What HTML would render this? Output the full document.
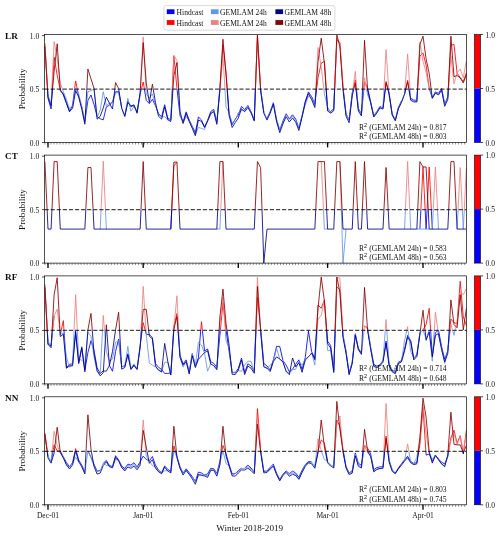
<!DOCTYPE html><html><head><meta charset="utf-8"><style>html,body{margin:0;padding:0;background:#fff;width:500px;height:536px;overflow:hidden}</style></head><body><svg width="500" height="536" viewBox="0 0 500 536" style="display:block;will-change:transform">
<rect width="500" height="536" fill="#fff"/>
<defs>
<clipPath id="up0"><rect x="44.5" y="32.5" width="422.1" height="56.53"/></clipPath>
<clipPath id="dn0"><rect x="44.5" y="89.03" width="422.1" height="55.47"/></clipPath>
<clipPath id="up1"><rect x="44.5" y="153.1" width="422.1" height="56.53"/></clipPath>
<clipPath id="dn1"><rect x="44.5" y="209.63" width="422.1" height="55.47"/></clipPath>
<clipPath id="up2"><rect x="44.5" y="273.9" width="422.1" height="56.53"/></clipPath>
<clipPath id="dn2"><rect x="44.5" y="330.43" width="422.1" height="55.47"/></clipPath>
<clipPath id="up3"><rect x="44.5" y="394.8" width="422.1" height="56.53"/></clipPath>
<clipPath id="dn3"><rect x="44.5" y="451.33" width="422.1" height="55.47"/></clipPath>
</defs>
<path d="M44.9,43.38 L48,98.22 L51.07,109.02 L54.14,57.18 L57.21,75.54 L60.28,89.58 L63.35,94.98 L66.43,103.62 L69.5,111.83 L72.57,105.42 L75.64,80.94 L78.71,96.06 L81.78,106.97 L84.85,121.71 L87.92,100.38 L90.99,94.98 L94.06,104.7 L97.14,116.57 L100.21,118.74 L103.28,119.82 L106.35,106.86 L109.42,105.24 L112.49,101.78 L115.56,91.74 L118.63,91.74 L121.7,107.44 M124.77,115.77 L127.85,101.09 L130.92,106.86 L133.99,104.7 L137.06,113.34 L140.13,93.9 L143.2,82.02 L146.27,100.38 L149.34,103.62 L152.4,99.3 L155.47,105.78 L158.54,113.66 L161.61,116.66 L164.67,104.7 L167.74,118.2 L170.81,119.91 L173.88,56.1 L176.95,88.5 L180.01,115.5 L183.08,121.81 L186.15,111.84 L189.22,120.1 L192.28,126.29 L195.35,132.69 L198.42,117 L201.49,119.96 L204.55,126.99 L207.62,120.32 L210.69,111.55 L213.76,109.36 L216.83,122.17 L219.89,87.47 L222.96,45.3 L226.03,71.9 L229.1,113.31 L232.16,124.66 L235.23,119.13 L238.3,115.01 L241.49,106.39 L244.68,109.51 L247.87,105.44 L251.06,111.76 L254.25,119.93 L257.44,36.12 L260.62,89.24 L263.81,112.25 M267,118.7 L270.19,111.46 L273.38,102.73 L276.57,120.2 L279.76,130.31 L282.95,121.05 L286.14,113.73 L289.33,118.84 L292.52,114.81 L295.71,118.99 L298.9,128.2 L302.09,115.81 L305.28,101.41 L308.46,91.91 L311.65,96.66 L314.84,103.79 L318.03,77.7 L321.22,63.12 L324.41,61.35 L327.6,109.2 L330.68,111.63 L333.75,108.52 L336.83,39.9 L339.91,43.17 L342.99,87.04 L346.06,114.05 L349.14,119.95 L352.22,92.68 L355.3,79.86 L358.37,108.65 L361.45,113.73 L364.53,82.02 L367.61,87.95 L370.68,101.88 L373.76,115.73 L376.84,111.54 L379.92,106.49 L382.99,108.05 L386.07,81.53 L389.15,93.3 L392.23,114.19 L395.3,119.75 L398.38,107.34 L401.46,101.03 M404.54,93.09 L407.61,80.27 L410.69,98.28 L413.77,100.11 L416.85,100.28 L419.92,56.1 L423,52.86 L426.1,65.17 L429.2,88.5 L432.3,97.76 L435.4,91.87 L438.5,93.39 L441.6,88.3 L444.7,104.04 L447.8,96.65 L450.9,45.3 L454,44.44 L457.1,73.38 L460.2,77.34 L463.3,81.69 L466.4,73" fill="none" stroke="#ff0000" stroke-width="0.85" stroke-linejoin="round" clip-path="url(#up0)"/>
<path d="M44.9,43.38 L48,98.22 L51.07,109.02 L54.14,57.18 L57.21,75.54 L60.28,89.58 L63.35,94.98 L66.43,103.62 L69.5,111.83 L72.57,105.42 L75.64,80.94 L78.71,96.06 L81.78,106.97 L84.85,121.71 L87.92,100.38 L90.99,94.98 L94.06,104.7 L97.14,116.57 L100.21,118.74 L103.28,119.82 L106.35,106.86 L109.42,105.24 L112.49,101.78 L115.56,91.74 L118.63,91.74 L121.7,107.44 M124.77,115.77 L127.85,101.09 L130.92,106.86 L133.99,104.7 L137.06,113.34 L140.13,93.9 L143.2,82.02 L146.27,100.38 L149.34,103.62 L152.4,99.3 L155.47,105.78 L158.54,113.66 L161.61,116.66 L164.67,104.7 L167.74,118.2 L170.81,119.91 L173.88,56.1 L176.95,88.5 L180.01,115.5 L183.08,121.81 L186.15,111.84 L189.22,120.1 L192.28,126.29 L195.35,132.69 L198.42,117 L201.49,119.96 L204.55,126.99 L207.62,120.32 L210.69,111.55 L213.76,109.36 L216.83,122.17 L219.89,87.47 L222.96,45.3 L226.03,71.9 L229.1,113.31 L232.16,124.66 L235.23,119.13 L238.3,115.01 L241.49,106.39 L244.68,109.51 L247.87,105.44 L251.06,111.76 L254.25,119.93 L257.44,36.12 L260.62,89.24 L263.81,112.25 M267,118.7 L270.19,111.46 L273.38,102.73 L276.57,120.2 L279.76,130.31 L282.95,121.05 L286.14,113.73 L289.33,118.84 L292.52,114.81 L295.71,118.99 L298.9,128.2 L302.09,115.81 L305.28,101.41 L308.46,91.91 L311.65,96.66 L314.84,103.79 L318.03,77.7 L321.22,63.12 L324.41,61.35 L327.6,109.2 L330.68,111.63 L333.75,108.52 L336.83,39.9 L339.91,43.17 L342.99,87.04 L346.06,114.05 L349.14,119.95 L352.22,92.68 L355.3,79.86 L358.37,108.65 L361.45,113.73 L364.53,82.02 L367.61,87.95 L370.68,101.88 L373.76,115.73 L376.84,111.54 L379.92,106.49 L382.99,108.05 L386.07,81.53 L389.15,93.3 L392.23,114.19 L395.3,119.75 L398.38,107.34 L401.46,101.03 M404.54,93.09 L407.61,80.27 L410.69,98.28 L413.77,100.11 L416.85,100.28 L419.92,56.1 L423,52.86 L426.1,65.17 L429.2,88.5 L432.3,97.76 L435.4,91.87 L438.5,93.39 L441.6,88.3 L444.7,104.04 L447.8,96.65 L450.9,45.3 L454,44.44 L457.1,73.38 L460.2,77.34 L463.3,81.69 L466.4,73" fill="none" stroke="#0000ff" stroke-width="0.85" stroke-linejoin="round" clip-path="url(#dn0)"/>
<path d="M44.9,47.02 L48,94.98 L51.07,103.62 L54.14,41.52 L57.21,58.26 L60.28,83.1 L63.35,91.74 L66.43,99.3 L69.5,109.02 L72.57,105.06 L75.64,88.36 L78.71,94.13 L81.78,106.7 L84.85,120.32 L87.92,91.74 L90.99,90.66 L94.06,89.17 L97.14,116.91 L100.21,110.1 L103.28,91.74 L106.35,105.65 L109.42,103.12 L112.49,102.88 L115.56,92.96 L118.63,92.71 L121.7,107.68 L124.77,115.36 L127.85,98.22 L130.92,111.18 L133.99,106.43 L137.06,111.04 L140.13,95.23 L143.2,36.98 L146.27,93.9 L149.34,98.22 L152.4,93.9 L155.47,105.36 L158.54,114.42 L161.61,117.07 L164.67,116.58 L167.74,120.14 L170.81,119.64 L173.88,55.21 L176.95,60.42 L180.01,115.92 L183.08,122.51 L186.15,116.58 L189.22,120.78 L192.28,127.38 L195.35,134.52 L198.42,127.38 L201.49,128.46 L204.55,129.54 L207.62,120.76 L210.69,114.85 L213.76,110.44 L216.83,122.52 L219.89,90.6 L222.96,56.1 L226.03,106.86 L229.1,112.97 L232.16,123.06 L235.23,120.21 L238.3,112.8 L241.49,110.64 L244.68,110.56 L247.87,106.55 L251.06,112 L254.25,119.33 L257.44,36.26 L260.62,88.59 L263.81,111.9 L267,118.84 L270.19,112 L273.38,103.76 L276.57,118.57 L279.76,129.88 L282.95,122.7 L286.14,114.66 L289.33,119.34 L292.52,116.58 L295.71,120.29 L298.9,127.41 L302.09,116.01 L305.28,104.7 L308.46,96.06 L311.65,98.22 L314.84,105.78 L318.03,47.46 L321.22,66.9 L324.41,93.9 L327.6,106.86 L330.68,112.81 L333.75,109.66 L336.83,38.17 L339.91,41.86 L342.99,88.03 L346.06,114.18 L349.14,119.45 L352.22,94.97 L355.3,71.33 L358.37,109.5 L361.45,114.22 L364.53,77.7 L367.61,94.98 L370.68,102.59 L373.76,116.5 L376.84,111.92 L379.92,107.56 L382.99,107.44 L386.07,49.62 L389.15,96.01 L392.23,115.13 L395.3,119.63 L398.38,108.24 L401.46,101.27 L404.54,93.45 L407.61,53.94 L410.69,99.28 L413.77,101.06 L416.85,101.71 L419.92,42.06 L423,61.5 L426.1,72.3 L429.2,87.86 L432.3,96.98 L435.4,92.86 L438.5,94.03 L441.6,89.82 L444.7,104.34 L447.8,97.95 L450.9,56.1 L454,83.75 L457.1,72.74 L460.2,69.06 L463.3,77.7 L466.4,60.96" fill="none" stroke="#f08080" stroke-width="0.85" stroke-linejoin="round" clip-path="url(#up0)"/>
<path d="M44.9,47.02 L48,94.98 L51.07,103.62 L54.14,41.52 L57.21,58.26 L60.28,83.1 L63.35,91.74 L66.43,99.3 L69.5,109.02 L72.57,105.06 L75.64,88.36 L78.71,94.13 L81.78,106.7 L84.85,120.32 L87.92,91.74 L90.99,90.66 L94.06,89.17 L97.14,116.91 L100.21,110.1 L103.28,91.74 L106.35,105.65 L109.42,103.12 L112.49,102.88 L115.56,92.96 L118.63,92.71 L121.7,107.68 L124.77,115.36 L127.85,98.22 L130.92,111.18 L133.99,106.43 L137.06,111.04 L140.13,95.23 L143.2,36.98 L146.27,93.9 L149.34,98.22 L152.4,93.9 L155.47,105.36 L158.54,114.42 L161.61,117.07 L164.67,116.58 L167.74,120.14 L170.81,119.64 L173.88,55.21 L176.95,60.42 L180.01,115.92 L183.08,122.51 L186.15,116.58 L189.22,120.78 L192.28,127.38 L195.35,134.52 L198.42,127.38 L201.49,128.46 L204.55,129.54 L207.62,120.76 L210.69,114.85 L213.76,110.44 L216.83,122.52 L219.89,90.6 L222.96,56.1 L226.03,106.86 L229.1,112.97 L232.16,123.06 L235.23,120.21 L238.3,112.8 L241.49,110.64 L244.68,110.56 L247.87,106.55 L251.06,112 L254.25,119.33 L257.44,36.26 L260.62,88.59 L263.81,111.9 L267,118.84 L270.19,112 L273.38,103.76 L276.57,118.57 L279.76,129.88 L282.95,122.7 L286.14,114.66 L289.33,119.34 L292.52,116.58 L295.71,120.29 L298.9,127.41 L302.09,116.01 L305.28,104.7 L308.46,96.06 L311.65,98.22 L314.84,105.78 L318.03,47.46 L321.22,66.9 L324.41,93.9 L327.6,106.86 L330.68,112.81 L333.75,109.66 L336.83,38.17 L339.91,41.86 L342.99,88.03 L346.06,114.18 L349.14,119.45 L352.22,94.97 L355.3,71.33 L358.37,109.5 L361.45,114.22 L364.53,77.7 L367.61,94.98 L370.68,102.59 L373.76,116.5 L376.84,111.92 L379.92,107.56 L382.99,107.44 L386.07,49.62 L389.15,96.01 L392.23,115.13 L395.3,119.63 L398.38,108.24 L401.46,101.27 L404.54,93.45 L407.61,53.94 L410.69,99.28 L413.77,101.06 L416.85,101.71 L419.92,42.06 L423,61.5 L426.1,72.3 L429.2,87.86 L432.3,96.98 L435.4,92.86 L438.5,94.03 L441.6,89.82 L444.7,104.34 L447.8,97.95 L450.9,56.1 L454,83.75 L457.1,72.74 L460.2,69.06 L463.3,77.7 L466.4,60.96" fill="none" stroke="#6495ed" stroke-width="0.85" stroke-linejoin="round" clip-path="url(#dn0)"/>
<path d="M44.9,46.51 L48,97.14 L51.07,105.78 L54.14,71.22 L57.21,43.79 L60.28,90.66 L63.35,93.9 L66.43,102.54 L69.5,111.18 L72.57,108.42 L75.64,90.66 L78.71,97.14 L81.78,109.32 L84.85,124.26 L87.92,69.06 L90.99,78.78 L94.06,88.5 L97.14,119.15 L100.21,116.26 L103.28,107.94 L106.35,97.14 L109.42,103.08 L112.49,109.02 L115.56,82.56 L118.63,88.5 L121.7,108.37 L124.77,116.51 L127.85,102.52 L130.92,105.78 L133.99,105.78 L137.06,112.26 L140.13,92.82 L143.2,42.6 L146.27,83.1 L149.34,102.54 L152.4,84.18 L155.47,102.54 L158.54,116.27 L161.61,119.14 L164.67,106.86 L167.74,119.6 L170.81,121.55 L173.88,75.54 L176.95,62.58 L180.01,111.18 L183.08,123.53 L186.15,113.48 L189.22,121.6 L192.28,128.25 L195.35,135.77 L198.42,120.03 L201.49,121.44 L204.55,127.49 L207.62,121.14 L210.69,113.35 L213.76,111.66 L216.83,124.37 L219.89,89.93 L222.96,39.25 L226.03,74.74 L229.1,115.62 L232.16,127.47 L235.23,122.6 L238.3,118.14 L241.49,108.8 L244.68,111.75 L247.87,107.51 L251.06,112.94 L254.25,121.05 L257.44,35.04 L260.62,90.68 L263.81,113.25 L267,120.08 L270.19,113.15 L273.38,104.06 L276.57,121.72 L279.76,132.68 L282.95,123.82 L286.14,116.66 L289.33,121.97 L292.52,118 L295.71,122.16 L298.9,130.49 L302.09,117.01 L305.28,102.38 L308.46,93.53 L311.65,99.71 L314.84,107.56 L318.03,61.5 L321.22,38.17 L324.41,63.3 L327.6,111.03 L330.68,113.13 L333.75,110.71 L336.83,35.15 L339.91,46.74 L342.99,89.45 L346.06,116.25 L349.14,122.72 L352.22,95.85 L355.3,83.1 L358.37,110.94 L361.45,115.93 L364.53,40.33 L367.61,89.94 L370.68,103.13 L373.76,117.06 L376.84,113.09 L379.92,107.96 L382.99,109.14 L386.07,82.67 L389.15,94.5 L392.23,115.04 L395.3,120.91 L398.38,108.92 L401.46,102.5 L404.54,94.48 L407.61,81.9 L410.69,100.24 L413.77,101.96 L416.85,101.85 L419.92,44.44 L423,36.12 L426.1,58.91 L429.2,73.38 L432.3,98.38 L435.4,93.18 L438.5,94.91 L441.6,90.12 L444.7,106.3 L447.8,99.44 L450.9,36.12 L454,76.62 L457.1,75.54 L460.2,77.88 L463.3,82.91 L466.4,74.55" fill="none" stroke="#8b0000" stroke-width="0.85" stroke-linejoin="round" clip-path="url(#up0)"/>
<path d="M44.9,46.51 L48,97.14 L51.07,105.78 L54.14,71.22 L57.21,43.79 L60.28,90.66 L63.35,93.9 L66.43,102.54 L69.5,111.18 L72.57,108.42 L75.64,90.66 L78.71,97.14 L81.78,109.32 L84.85,124.26 L87.92,69.06 L90.99,78.78 L94.06,88.5 L97.14,119.15 L100.21,116.26 L103.28,107.94 L106.35,97.14 L109.42,103.08 L112.49,109.02 L115.56,82.56 L118.63,88.5 L121.7,108.37 L124.77,116.51 L127.85,102.52 L130.92,105.78 L133.99,105.78 L137.06,112.26 L140.13,92.82 L143.2,42.6 L146.27,83.1 L149.34,102.54 L152.4,84.18 L155.47,102.54 L158.54,116.27 L161.61,119.14 L164.67,106.86 L167.74,119.6 L170.81,121.55 L173.88,75.54 L176.95,62.58 L180.01,111.18 L183.08,123.53 L186.15,113.48 L189.22,121.6 L192.28,128.25 L195.35,135.77 L198.42,120.03 L201.49,121.44 L204.55,127.49 L207.62,121.14 L210.69,113.35 L213.76,111.66 L216.83,124.37 L219.89,89.93 L222.96,39.25 L226.03,74.74 L229.1,115.62 L232.16,127.47 L235.23,122.6 L238.3,118.14 L241.49,108.8 L244.68,111.75 L247.87,107.51 L251.06,112.94 L254.25,121.05 L257.44,35.04 L260.62,90.68 L263.81,113.25 L267,120.08 L270.19,113.15 L273.38,104.06 L276.57,121.72 L279.76,132.68 L282.95,123.82 L286.14,116.66 L289.33,121.97 L292.52,118 L295.71,122.16 L298.9,130.49 L302.09,117.01 L305.28,102.38 L308.46,93.53 L311.65,99.71 L314.84,107.56 L318.03,61.5 L321.22,38.17 L324.41,63.3 L327.6,111.03 L330.68,113.13 L333.75,110.71 L336.83,35.15 L339.91,46.74 L342.99,89.45 L346.06,116.25 L349.14,122.72 L352.22,95.85 L355.3,83.1 L358.37,110.94 L361.45,115.93 L364.53,40.33 L367.61,89.94 L370.68,103.13 L373.76,117.06 L376.84,113.09 L379.92,107.96 L382.99,109.14 L386.07,82.67 L389.15,94.5 L392.23,115.04 L395.3,120.91 L398.38,108.92 L401.46,102.5 L404.54,94.48 L407.61,81.9 L410.69,100.24 L413.77,101.96 L416.85,101.85 L419.92,44.44 L423,36.12 L426.1,58.91 L429.2,73.38 L432.3,98.38 L435.4,93.18 L438.5,94.91 L441.6,90.12 L444.7,106.3 L447.8,99.44 L450.9,36.12 L454,76.62 L457.1,75.54 L460.2,77.88 L463.3,82.91 L466.4,74.55" fill="none" stroke="#00008b" stroke-width="0.85" stroke-linejoin="round" clip-path="url(#dn0)"/>
<line x1="44.5" y1="89.03" x2="466.6" y2="89.03" stroke="#000" stroke-width="1.25" stroke-dasharray="4.2 1.89" opacity="0.72"/>
<rect x="44.5" y="34.5" width="422.1" height="108.0" fill="none" stroke="#000" stroke-width="0.68"/>
<line x1="42.0" y1="142.5" x2="44.5" y2="142.5" stroke="#000" stroke-width="0.7"/>
<text x="39.2" y="145.5" text-anchor="end" font-size="7.5" fill="#111" style="font-family:'Liberation Serif',serif">0.0</text>
<line x1="42.0" y1="89.03" x2="44.5" y2="89.03" stroke="#000" stroke-width="0.7"/>
<text x="39.2" y="92.03" text-anchor="end" font-size="7.5" fill="#111" style="font-family:'Liberation Serif',serif">0.5</text>
<line x1="42.0" y1="35.57" x2="44.5" y2="35.57" stroke="#000" stroke-width="0.7"/>
<text x="39.2" y="38.57" text-anchor="end" font-size="7.5" fill="#111" style="font-family:'Liberation Serif',serif">1.0</text>
<path d="M44.9 142.5v2 M47.92 142.5v2 M50.94 142.5v2 M53.96 142.5v2 M56.98 142.5v2 M60 142.5v2 M63.02 142.5v2 M66.04 142.5v2 M69.06 142.5v2 M72.08 142.5v2 M75.1 142.5v2 M78.12 142.5v2 M81.14 142.5v2 M84.16 142.5v2 M87.18 142.5v2 M90.2 142.5v2 M93.22 142.5v2 M96.24 142.5v2 M99.26 142.5v2 M102.28 142.5v2 M105.3 142.5v2 M108.32 142.5v2 M111.34 142.5v2 M114.36 142.5v2 M117.38 142.5v2 M120.4 142.5v2 M123.42 142.5v2 M126.44 142.5v2 M129.46 142.5v2 M132.48 142.5v2 M135.5 142.5v2 M138.52 142.5v2 M141.54 142.5v2 M144.56 142.5v2 M147.58 142.5v2 M150.6 142.5v2 M153.62 142.5v2 M156.64 142.5v2 M159.66 142.5v2 M162.68 142.5v2 M165.7 142.5v2 M168.72 142.5v2 M171.74 142.5v2 M174.76 142.5v2 M177.78 142.5v2 M180.8 142.5v2 M183.82 142.5v2 M186.84 142.5v2 M189.86 142.5v2 M192.88 142.5v2 M195.9 142.5v2 M198.92 142.5v2 M201.94 142.5v2 M204.96 142.5v2 M207.98 142.5v2 M211 142.5v2 M214.02 142.5v2 M217.04 142.5v2 M220.06 142.5v2 M223.08 142.5v2 M226.1 142.5v2 M229.12 142.5v2 M232.14 142.5v2 M235.16 142.5v2 M238.18 142.5v2 M241.2 142.5v2 M244.22 142.5v2 M247.24 142.5v2 M250.26 142.5v2 M253.28 142.5v2 M256.3 142.5v2 M259.32 142.5v2 M262.34 142.5v2 M265.36 142.5v2 M268.38 142.5v2 M271.4 142.5v2 M274.42 142.5v2 M277.44 142.5v2 M280.46 142.5v2 M283.48 142.5v2 M286.5 142.5v2 M289.52 142.5v2 M292.54 142.5v2 M295.56 142.5v2 M298.58 142.5v2 M301.6 142.5v2 M304.62 142.5v2 M307.64 142.5v2 M310.66 142.5v2 M313.68 142.5v2 M316.7 142.5v2 M319.72 142.5v2 M322.74 142.5v2 M325.76 142.5v2 M328.78 142.5v2 M331.8 142.5v2 M334.82 142.5v2 M337.84 142.5v2 M340.86 142.5v2 M343.88 142.5v2 M346.9 142.5v2 M349.92 142.5v2 M352.94 142.5v2 M355.96 142.5v2 M358.98 142.5v2 M362 142.5v2 M365.02 142.5v2 M368.04 142.5v2 M371.06 142.5v2 M374.08 142.5v2 M377.1 142.5v2 M380.12 142.5v2 M383.14 142.5v2 M386.16 142.5v2 M389.18 142.5v2 M392.2 142.5v2 M395.22 142.5v2 M398.24 142.5v2 M401.26 142.5v2 M404.28 142.5v2 M407.3 142.5v2 M410.32 142.5v2 M413.34 142.5v2 M416.36 142.5v2 M419.38 142.5v2 M422.4 142.5v2 M425.42 142.5v2 M428.44 142.5v2 M431.46 142.5v2 M434.48 142.5v2 M437.5 142.5v2 M440.52 142.5v2 M443.54 142.5v2 M446.56 142.5v2 M449.58 142.5v2 M452.6 142.5v2 M455.62 142.5v2 M458.64 142.5v2 M461.66 142.5v2 M464.68 142.5v2" stroke="#000" stroke-width="0.6" opacity="0.7"/>
<line x1="48.0" y1="142.5" x2="48.0" y2="147.4" stroke="#000" stroke-width="1.3"/>
<line x1="143.2" y1="142.5" x2="143.2" y2="147.4" stroke="#000" stroke-width="1.3"/>
<line x1="238.3" y1="142.5" x2="238.3" y2="147.4" stroke="#000" stroke-width="1.3"/>
<line x1="327.6" y1="142.5" x2="327.6" y2="147.4" stroke="#000" stroke-width="1.3"/>
<line x1="423.0" y1="142.5" x2="423.0" y2="147.4" stroke="#000" stroke-width="1.3"/>
<text x="5.0" y="38.7" font-size="9.2" font-weight="bold" fill="#111" style="font-family:'Liberation Serif',serif">LR</text>
<text transform="translate(24.8 88.9) rotate(-90)" text-anchor="middle" font-size="9.2" fill="#111" style="font-family:'Liberation Serif',serif">Probability</text>
<text x="358.9" y="130" font-size="7.6" fill="#111" style="font-family:'Liberation Serif',serif">R<tspan dy="-2.9" font-size="5.6" font-family="Liberation Sans">2</tspan><tspan dy="2.9" dx="0.3"> (GEMLAM 24h) = 0.817</tspan></text>
<text x="358.9" y="139.2" font-size="7.6" fill="#111" style="font-family:'Liberation Serif',serif">R<tspan dy="-2.9" font-size="5.6" font-family="Liberation Sans">2</tspan><tspan dy="2.9" dx="0.3"> (GEMLAM 48h) = 0.803</tspan></text>
<rect x="474.5" y="34.5" width="6" height="54.0" fill="#ff0000"/>
<rect x="474.5" y="88.5" width="6" height="54.0" fill="#0000ff"/>
<rect x="474.5" y="34.5" width="6" height="108.0" fill="none" stroke="#000" stroke-width="0.6"/>
<line x1="480.5" y1="142.5" x2="483.1" y2="142.5" stroke="#000" stroke-width="0.7"/>
<text x="485.6" y="145.8" font-size="7.5" fill="#111" style="font-family:'Liberation Serif',serif">0.0</text>
<line x1="480.5" y1="88.5" x2="483.1" y2="88.5" stroke="#000" stroke-width="0.7"/>
<text x="485.6" y="91.8" font-size="7.5" fill="#111" style="font-family:'Liberation Serif',serif">0.5</text>
<line x1="480.5" y1="34.5" x2="483.1" y2="34.5" stroke="#000" stroke-width="0.7"/>
<text x="485.6" y="37.8" font-size="7.5" fill="#111" style="font-family:'Liberation Serif',serif">1.0</text>
<path d="M170.81,229.08 L173.88,165.9 L176.95,162.12 M419.92,229.08 L423,166.98 L426.1,229.08 L429.2,166.98 L432.3,229.08" fill="none" stroke="#ff0000" stroke-width="0.85" stroke-linejoin="round" clip-path="url(#up1)"/>
<path d="M170.81,229.08 L173.88,165.9 L176.95,162.12 M419.92,229.08 L423,166.98 L426.1,229.08 L429.2,166.98 L432.3,229.08" fill="none" stroke="#0000ff" stroke-width="0.85" stroke-linejoin="round" clip-path="url(#dn1)"/>
<path d="M100.21,229.08 L103.28,161.26 L106.35,229.08 M216.83,229.08 L219.89,229.08 L222.96,161.58 M321.22,161.58 L324.41,229.08 L327.6,229.08 M339.91,161.58 L342.99,263.1 L346.06,229.08 M404.54,229.08 L407.61,161.58 L410.69,229.08 M416.85,229.08 L429.2,229.08 M432.3,229.08 L435.4,166.98 L438.5,229.08 M457.1,229.08 L460.2,167.52 L463.3,229.08 L466.4,167.52" fill="none" stroke="#f08080" stroke-width="0.85" stroke-linejoin="round" clip-path="url(#up1)"/>
<path d="M100.21,229.08 L103.28,161.26 L106.35,229.08 M216.83,229.08 L219.89,229.08 L222.96,161.58 M321.22,161.58 L324.41,229.08 L327.6,229.08 M339.91,161.58 L342.99,263.1 L346.06,229.08 M404.54,229.08 L407.61,161.58 L410.69,229.08 M416.85,229.08 L429.2,229.08 M432.3,229.08 L435.4,166.98 L438.5,229.08 M457.1,229.08 L460.2,167.52 L463.3,229.08 L466.4,167.52" fill="none" stroke="#6495ed" stroke-width="0.85" stroke-linejoin="round" clip-path="url(#dn1)"/>
<path d="M44.9,161.58 L48,229.08 L51.07,229.08 L54.14,161.58 L57.21,161.58 L60.28,229.08 L84.85,229.08 L87.92,167.52 L90.99,167.52 L94.06,229.08 L140.13,229.08 L143.2,161.58 L146.27,229.08 L170.81,229.08 L173.88,162.12 L176.95,162.12 L180.01,229.08 L216.83,229.08 L219.89,161.58 L222.96,161.58 L226.03,229.08 L254.25,229.08 L257.44,161.58 L260.62,167.52 L263.81,263.1 L267,229.08 L314.84,229.08 L318.03,161.58 L324.41,161.58 L327.6,229.08 L333.75,229.08 L336.83,161.58 L339.91,161.58 L342.99,229.08 L352.22,229.08 L355.3,161.58 L358.37,229.08 L361.45,229.08 L364.53,161.58 L367.61,229.08 L382.99,229.08 L386.07,167.52 L389.15,229.08 L416.85,229.08 L419.92,161.58 L423,166.98 L426.1,166.98 L429.2,229.08 L447.8,229.08 L450.9,161.58 L454,161.58 L457.1,229.08 L466.4,229.08" fill="none" stroke="#8b0000" stroke-width="0.85" stroke-linejoin="round" clip-path="url(#up1)"/>
<path d="M44.9,161.58 L48,229.08 L51.07,229.08 L54.14,161.58 L57.21,161.58 L60.28,229.08 L84.85,229.08 L87.92,167.52 L90.99,167.52 L94.06,229.08 L140.13,229.08 L143.2,161.58 L146.27,229.08 L170.81,229.08 L173.88,162.12 L176.95,162.12 L180.01,229.08 L216.83,229.08 L219.89,161.58 L222.96,161.58 L226.03,229.08 L254.25,229.08 L257.44,161.58 L260.62,167.52 L263.81,263.1 L267,229.08 L314.84,229.08 L318.03,161.58 L324.41,161.58 L327.6,229.08 L333.75,229.08 L336.83,161.58 L339.91,161.58 L342.99,229.08 L352.22,229.08 L355.3,161.58 L358.37,229.08 L361.45,229.08 L364.53,161.58 L367.61,229.08 L382.99,229.08 L386.07,167.52 L389.15,229.08 L416.85,229.08 L419.92,161.58 L423,166.98 L426.1,166.98 L429.2,229.08 L447.8,229.08 L450.9,161.58 L454,161.58 L457.1,229.08 L466.4,229.08" fill="none" stroke="#00008b" stroke-width="0.85" stroke-linejoin="round" clip-path="url(#dn1)"/>
<line x1="44.5" y1="209.63" x2="466.6" y2="209.63" stroke="#000" stroke-width="1.25" stroke-dasharray="4.2 1.89" opacity="0.72"/>
<rect x="44.5" y="155.1" width="422.1" height="108.0" fill="none" stroke="#000" stroke-width="0.68"/>
<line x1="42.0" y1="263.1" x2="44.5" y2="263.1" stroke="#000" stroke-width="0.7"/>
<text x="39.2" y="266.1" text-anchor="end" font-size="7.5" fill="#111" style="font-family:'Liberation Serif',serif">0.0</text>
<line x1="42.0" y1="209.63" x2="44.5" y2="209.63" stroke="#000" stroke-width="0.7"/>
<text x="39.2" y="212.63" text-anchor="end" font-size="7.5" fill="#111" style="font-family:'Liberation Serif',serif">0.5</text>
<line x1="42.0" y1="156.17" x2="44.5" y2="156.17" stroke="#000" stroke-width="0.7"/>
<text x="39.2" y="159.17" text-anchor="end" font-size="7.5" fill="#111" style="font-family:'Liberation Serif',serif">1.0</text>
<path d="M44.9 263.1v2 M47.92 263.1v2 M50.94 263.1v2 M53.96 263.1v2 M56.98 263.1v2 M60 263.1v2 M63.02 263.1v2 M66.04 263.1v2 M69.06 263.1v2 M72.08 263.1v2 M75.1 263.1v2 M78.12 263.1v2 M81.14 263.1v2 M84.16 263.1v2 M87.18 263.1v2 M90.2 263.1v2 M93.22 263.1v2 M96.24 263.1v2 M99.26 263.1v2 M102.28 263.1v2 M105.3 263.1v2 M108.32 263.1v2 M111.34 263.1v2 M114.36 263.1v2 M117.38 263.1v2 M120.4 263.1v2 M123.42 263.1v2 M126.44 263.1v2 M129.46 263.1v2 M132.48 263.1v2 M135.5 263.1v2 M138.52 263.1v2 M141.54 263.1v2 M144.56 263.1v2 M147.58 263.1v2 M150.6 263.1v2 M153.62 263.1v2 M156.64 263.1v2 M159.66 263.1v2 M162.68 263.1v2 M165.7 263.1v2 M168.72 263.1v2 M171.74 263.1v2 M174.76 263.1v2 M177.78 263.1v2 M180.8 263.1v2 M183.82 263.1v2 M186.84 263.1v2 M189.86 263.1v2 M192.88 263.1v2 M195.9 263.1v2 M198.92 263.1v2 M201.94 263.1v2 M204.96 263.1v2 M207.98 263.1v2 M211 263.1v2 M214.02 263.1v2 M217.04 263.1v2 M220.06 263.1v2 M223.08 263.1v2 M226.1 263.1v2 M229.12 263.1v2 M232.14 263.1v2 M235.16 263.1v2 M238.18 263.1v2 M241.2 263.1v2 M244.22 263.1v2 M247.24 263.1v2 M250.26 263.1v2 M253.28 263.1v2 M256.3 263.1v2 M259.32 263.1v2 M262.34 263.1v2 M265.36 263.1v2 M268.38 263.1v2 M271.4 263.1v2 M274.42 263.1v2 M277.44 263.1v2 M280.46 263.1v2 M283.48 263.1v2 M286.5 263.1v2 M289.52 263.1v2 M292.54 263.1v2 M295.56 263.1v2 M298.58 263.1v2 M301.6 263.1v2 M304.62 263.1v2 M307.64 263.1v2 M310.66 263.1v2 M313.68 263.1v2 M316.7 263.1v2 M319.72 263.1v2 M322.74 263.1v2 M325.76 263.1v2 M328.78 263.1v2 M331.8 263.1v2 M334.82 263.1v2 M337.84 263.1v2 M340.86 263.1v2 M343.88 263.1v2 M346.9 263.1v2 M349.92 263.1v2 M352.94 263.1v2 M355.96 263.1v2 M358.98 263.1v2 M362 263.1v2 M365.02 263.1v2 M368.04 263.1v2 M371.06 263.1v2 M374.08 263.1v2 M377.1 263.1v2 M380.12 263.1v2 M383.14 263.1v2 M386.16 263.1v2 M389.18 263.1v2 M392.2 263.1v2 M395.22 263.1v2 M398.24 263.1v2 M401.26 263.1v2 M404.28 263.1v2 M407.3 263.1v2 M410.32 263.1v2 M413.34 263.1v2 M416.36 263.1v2 M419.38 263.1v2 M422.4 263.1v2 M425.42 263.1v2 M428.44 263.1v2 M431.46 263.1v2 M434.48 263.1v2 M437.5 263.1v2 M440.52 263.1v2 M443.54 263.1v2 M446.56 263.1v2 M449.58 263.1v2 M452.6 263.1v2 M455.62 263.1v2 M458.64 263.1v2 M461.66 263.1v2 M464.68 263.1v2" stroke="#000" stroke-width="0.6" opacity="0.7"/>
<line x1="48.0" y1="263.1" x2="48.0" y2="268" stroke="#000" stroke-width="1.3"/>
<line x1="143.2" y1="263.1" x2="143.2" y2="268" stroke="#000" stroke-width="1.3"/>
<line x1="238.3" y1="263.1" x2="238.3" y2="268" stroke="#000" stroke-width="1.3"/>
<line x1="327.6" y1="263.1" x2="327.6" y2="268" stroke="#000" stroke-width="1.3"/>
<line x1="423.0" y1="263.1" x2="423.0" y2="268" stroke="#000" stroke-width="1.3"/>
<text x="5.0" y="159.3" font-size="9.2" font-weight="bold" fill="#111" style="font-family:'Liberation Serif',serif">CT</text>
<text transform="translate(24.8 209.5) rotate(-90)" text-anchor="middle" font-size="9.2" fill="#111" style="font-family:'Liberation Serif',serif">Probability</text>
<text x="358.9" y="250.6" font-size="7.6" fill="#111" style="font-family:'Liberation Serif',serif">R<tspan dy="-2.9" font-size="5.6" font-family="Liberation Sans">2</tspan><tspan dy="2.9" dx="0.3"> (GEMLAM 24h) = 0.583</tspan></text>
<text x="358.9" y="259.8" font-size="7.6" fill="#111" style="font-family:'Liberation Serif',serif">R<tspan dy="-2.9" font-size="5.6" font-family="Liberation Sans">2</tspan><tspan dy="2.9" dx="0.3"> (GEMLAM 48h) = 0.563</tspan></text>
<rect x="474.5" y="155.1" width="6" height="54.0" fill="#ff0000"/>
<rect x="474.5" y="209.1" width="6" height="54.0" fill="#0000ff"/>
<rect x="474.5" y="155.1" width="6" height="108.0" fill="none" stroke="#000" stroke-width="0.6"/>
<line x1="480.5" y1="263.1" x2="483.1" y2="263.1" stroke="#000" stroke-width="0.7"/>
<text x="485.6" y="266.4" font-size="7.5" fill="#111" style="font-family:'Liberation Serif',serif">0.0</text>
<line x1="480.5" y1="209.1" x2="483.1" y2="209.1" stroke="#000" stroke-width="0.7"/>
<text x="485.6" y="212.4" font-size="7.5" fill="#111" style="font-family:'Liberation Serif',serif">0.5</text>
<line x1="480.5" y1="155.1" x2="483.1" y2="155.1" stroke="#000" stroke-width="0.7"/>
<text x="485.6" y="158.4" font-size="7.5" fill="#111" style="font-family:'Liberation Serif',serif">1.0</text>
<path d="M44.9,284.44 L48,343.94 L51.07,345.9 L54.14,315.86 M60.28,334.67 L63.35,320.61 L66.43,367.7 L69.5,364.38 L72.57,363.77 L75.64,331.03 L78.71,362.41 L81.78,346.8 L84.85,370.22 L87.92,352.58 L90.99,340.7 L94.06,350.57 L97.14,367.82 L100.21,373.51 L103.28,370.82 L106.35,371.26 L109.42,365.4 L112.49,371.26 L115.56,351.5 L118.63,339.19 L121.7,366.71 L124.77,365.75 L127.85,353.74 L130.92,368.74 L133.99,364.93 L137.06,368.9 L140.13,345.92 L143.2,322.66 L146.27,334.22 L149.34,334.63 L152.4,337.5 L155.47,363.53 L158.54,367.34 L161.61,369.42 L164.67,373.42 L167.74,373.42 L170.81,372.86 L173.88,326.35 L176.95,313.52 L180.01,355.13 L183.08,364 L186.15,359.89 L189.22,371.93 L192.28,353.55 L195.35,366.07 L198.42,357.7 L201.49,321.69 L204.55,351.01 L207.62,349 L210.69,361.7 L213.76,363.37 L216.83,367.39 L219.89,335.3 L222.96,302.9 L226.03,329.9 L229.1,351.5 L232.16,372.4 L235.23,372.83 L238.3,368.41 L241.49,358.05 L244.68,372.38 L247.87,363.87 L251.06,365.85 L254.25,371 L257.44,297.5 L260.62,328.22 L263.81,363.46 L267,365.93 L270.19,370.06 L273.38,359.88 L276.57,346.42 L279.76,346.42 L282.95,360.63 L286.14,365.11 L289.33,371.69 L292.52,369.21 L295.71,364.29 L298.9,359.85 L302.09,369.42 L305.28,357.51 L308.46,330.98 L311.65,351.67 L314.84,358.29 L318.03,305.06 L321.22,308.3 L324.41,299.92 L327.6,341.19 L330.68,345.6 L333.75,370.18 L336.83,286.7 L339.91,289.8 L342.99,335.27 L346.06,351.24 L349.14,373.03 L352.22,362.05 L355.3,333.7 L358.37,348.2 L361.45,352.98 M364.53,325.8 L367.61,328.95 L370.68,347.49 L373.76,364.2 L376.84,366.4 L379.92,364.66 L382.99,360.56 L386.07,341.21 L389.15,364.47 L392.23,370.69 L395.3,372.37 L398.38,362.3 L401.46,360.49 L404.54,349.23 L407.61,335.41 L410.69,340.55 L413.77,358.41 L416.85,354.53 L419.92,333 M423,329.9 L426.1,324.5 L429.2,308.3 L432.3,355.82 L435.4,332.67 L438.5,330.24 L441.6,346.66 L444.7,359.31 L447.8,350.73 L450.9,319.1 L454,322.66 L457.1,323.74 L460.2,281.3 L463.3,316.94 L466.4,325.58" fill="none" stroke="#ff0000" stroke-width="0.85" stroke-linejoin="round" clip-path="url(#up2)"/>
<path d="M44.9,284.44 L48,343.94 L51.07,345.9 L54.14,315.86 M60.28,334.67 L63.35,320.61 L66.43,367.7 L69.5,364.38 L72.57,363.77 L75.64,331.03 L78.71,362.41 L81.78,346.8 L84.85,370.22 L87.92,352.58 L90.99,340.7 L94.06,350.57 L97.14,367.82 L100.21,373.51 L103.28,370.82 L106.35,371.26 L109.42,365.4 L112.49,371.26 L115.56,351.5 L118.63,339.19 L121.7,366.71 L124.77,365.75 L127.85,353.74 L130.92,368.74 L133.99,364.93 L137.06,368.9 L140.13,345.92 L143.2,322.66 L146.27,334.22 L149.34,334.63 L152.4,337.5 L155.47,363.53 L158.54,367.34 L161.61,369.42 L164.67,373.42 L167.74,373.42 L170.81,372.86 L173.88,326.35 L176.95,313.52 L180.01,355.13 L183.08,364 L186.15,359.89 L189.22,371.93 L192.28,353.55 L195.35,366.07 L198.42,357.7 L201.49,321.69 L204.55,351.01 L207.62,349 L210.69,361.7 L213.76,363.37 L216.83,367.39 L219.89,335.3 L222.96,302.9 L226.03,329.9 L229.1,351.5 L232.16,372.4 L235.23,372.83 L238.3,368.41 L241.49,358.05 L244.68,372.38 L247.87,363.87 L251.06,365.85 L254.25,371 L257.44,297.5 L260.62,328.22 L263.81,363.46 L267,365.93 L270.19,370.06 L273.38,359.88 L276.57,346.42 L279.76,346.42 L282.95,360.63 L286.14,365.11 L289.33,371.69 L292.52,369.21 L295.71,364.29 L298.9,359.85 L302.09,369.42 L305.28,357.51 L308.46,330.98 L311.65,351.67 L314.84,358.29 L318.03,305.06 L321.22,308.3 L324.41,299.92 L327.6,341.19 L330.68,345.6 L333.75,370.18 L336.83,286.7 L339.91,289.8 L342.99,335.27 L346.06,351.24 L349.14,373.03 L352.22,362.05 L355.3,333.7 L358.37,348.2 L361.45,352.98 M364.53,325.8 L367.61,328.95 L370.68,347.49 L373.76,364.2 L376.84,366.4 L379.92,364.66 L382.99,360.56 L386.07,341.21 L389.15,364.47 L392.23,370.69 L395.3,372.37 L398.38,362.3 L401.46,360.49 L404.54,349.23 L407.61,335.41 L410.69,340.55 L413.77,358.41 L416.85,354.53 L419.92,333 M423,329.9 L426.1,324.5 L429.2,308.3 L432.3,355.82 L435.4,332.67 L438.5,330.24 L441.6,346.66 L444.7,359.31 L447.8,350.73 L450.9,319.1 L454,322.66 L457.1,323.74 L460.2,281.3 L463.3,316.94 L466.4,325.58" fill="none" stroke="#0000ff" stroke-width="0.85" stroke-linejoin="round" clip-path="url(#dn2)"/>
<path d="M44.9,288.86 L48,342.32 L51.07,345.02 L54.14,315.88 L57.21,309.25 L60.28,334.33 L63.35,333.1 L66.43,356.9 L69.5,367.16 L72.57,364.33 L75.64,294.69 L78.71,359.06 L81.78,360.14 L84.85,363.38 L87.92,332.06 L90.99,336.38 L94.06,356.9 L97.14,371.81 L100.21,374.06 L103.28,315.43 L106.35,351.5 L109.42,361.22 L112.49,359.06 L115.56,342.32 L118.63,340.7 L121.7,366.75 L124.77,366.36 L127.85,346.42 L130.92,367.86 L133.99,363.88 L137.06,368.83 L140.13,348.32 L143.2,286.38 L146.27,335.08 L149.34,363.06 L152.4,365.11 L155.47,366.89 L158.54,369.8 L161.61,371.25 L164.67,362.3 L167.74,361.99 L170.81,374.82 L173.88,327.74 L176.95,295.77 L180.01,356.87 L183.08,367.16 L186.15,361.15 L189.22,372.9 L192.28,353.78 L195.35,365.22 L198.42,342.32 L201.49,345.02 L204.55,353.42 L207.62,371.26 L210.69,363.84 M213.76,365.77 L216.83,368.83 L219.89,324.5 L222.96,297.5 L226.03,340.7 L229.1,348.26 L232.16,372.64 L235.23,372.15 L238.3,370.72 L241.49,371.26 L244.68,365.11 L247.87,361.22 L251.06,361.22 L254.25,372.19 L257.44,277.09 L260.62,329.9 L263.81,365.54 L267,368.84 L270.19,365.11 L273.38,361.51 L276.57,348.26 L279.76,359.15 L282.95,361.39 L286.14,371.46 L289.33,373.1 L292.52,369.74 L295.71,369.21 L298.9,361.22 L302.09,365.11 L305.28,359.01 L308.46,356.9 M311.65,352.57 L314.84,365.11 L318.03,319.1 L321.22,315.43 L324.41,300.78 L327.6,350.42 L330.68,350.42 L333.75,371.38 L336.83,277.53 L339.91,278.06 L342.99,334.89 L346.06,352.08 L349.14,374.42 L352.22,361.99 L355.3,334.38 L358.37,349.66 L361.45,353.39 L364.53,325.83 L367.61,327.47 L370.68,347.8 L373.76,367.05 L376.84,367.1 L379.92,364.99 L382.99,360.1 L386.07,319.53 L389.15,364.19 L392.23,370.04 L395.3,373.14 L398.38,363.73 L401.46,361.41 L404.54,340.7 L407.61,326.66 L410.69,351.5 L413.77,358.01 L416.85,356 L419.92,332.68 L423,330.16 L426.1,338.54 L429.2,329.9 L432.3,361.22 L435.4,312.3 L438.5,335.3 L441.6,348.26 L444.7,363.38 L447.8,350.13 L450.9,324.5 L454,335.3 L457.1,321.69 L460.2,292.1 L463.3,294.69 L466.4,288.43" fill="none" stroke="#f08080" stroke-width="0.85" stroke-linejoin="round" clip-path="url(#up2)"/>
<path d="M44.9,288.86 L48,342.32 L51.07,345.02 L54.14,315.88 L57.21,309.25 L60.28,334.33 L63.35,333.1 L66.43,356.9 L69.5,367.16 L72.57,364.33 L75.64,294.69 L78.71,359.06 L81.78,360.14 L84.85,363.38 L87.92,332.06 L90.99,336.38 L94.06,356.9 L97.14,371.81 L100.21,374.06 L103.28,315.43 L106.35,351.5 L109.42,361.22 L112.49,359.06 L115.56,342.32 L118.63,340.7 L121.7,366.75 L124.77,366.36 L127.85,346.42 L130.92,367.86 L133.99,363.88 L137.06,368.83 L140.13,348.32 L143.2,286.38 L146.27,335.08 L149.34,363.06 L152.4,365.11 L155.47,366.89 L158.54,369.8 L161.61,371.25 L164.67,362.3 L167.74,361.99 L170.81,374.82 L173.88,327.74 L176.95,295.77 L180.01,356.87 L183.08,367.16 L186.15,361.15 L189.22,372.9 L192.28,353.78 L195.35,365.22 L198.42,342.32 L201.49,345.02 L204.55,353.42 L207.62,371.26 L210.69,363.84 M213.76,365.77 L216.83,368.83 L219.89,324.5 L222.96,297.5 L226.03,340.7 L229.1,348.26 L232.16,372.64 L235.23,372.15 L238.3,370.72 L241.49,371.26 L244.68,365.11 L247.87,361.22 L251.06,361.22 L254.25,372.19 L257.44,277.09 L260.62,329.9 L263.81,365.54 L267,368.84 L270.19,365.11 L273.38,361.51 L276.57,348.26 L279.76,359.15 L282.95,361.39 L286.14,371.46 L289.33,373.1 L292.52,369.74 L295.71,369.21 L298.9,361.22 L302.09,365.11 L305.28,359.01 L308.46,356.9 M311.65,352.57 L314.84,365.11 L318.03,319.1 L321.22,315.43 L324.41,300.78 L327.6,350.42 L330.68,350.42 L333.75,371.38 L336.83,277.53 L339.91,278.06 L342.99,334.89 L346.06,352.08 L349.14,374.42 L352.22,361.99 L355.3,334.38 L358.37,349.66 L361.45,353.39 L364.53,325.83 L367.61,327.47 L370.68,347.8 L373.76,367.05 L376.84,367.1 L379.92,364.99 L382.99,360.1 L386.07,319.53 L389.15,364.19 L392.23,370.04 L395.3,373.14 L398.38,363.73 L401.46,361.41 L404.54,340.7 L407.61,326.66 L410.69,351.5 L413.77,358.01 L416.85,356 L419.92,332.68 L423,330.16 L426.1,338.54 L429.2,329.9 L432.3,361.22 L435.4,312.3 L438.5,335.3 L441.6,348.26 L444.7,363.38 L447.8,350.13 L450.9,324.5 L454,335.3 L457.1,321.69 L460.2,292.1 L463.3,294.69 L466.4,288.43" fill="none" stroke="#6495ed" stroke-width="0.85" stroke-linejoin="round" clip-path="url(#dn2)"/>
<path d="M44.9,287.34 L48,344.37 L51.07,347.75 L54.14,294.69 L57.21,277.74 L60.28,336.56 L63.35,334.22 L66.43,368.24 L69.5,365.84 L72.57,365.89 L75.64,332.59 L78.71,363.58 L81.78,348.19 L84.85,371.8 L87.92,329.9 L90.99,313.38 L94.06,353.4 L97.14,370.53 L100.21,375.87 L103.28,372.71 L106.35,324.72 L109.42,365.62 L112.49,351.5 L115.56,329.9 L118.63,312.3 L121.7,369.1 L124.77,367.53 L127.85,354.77 L130.92,369.54 L133.99,365.58 L137.06,369.6 L140.13,347.05 L143.2,309.38 L146.27,309.38 L149.34,336.25 L152.4,338.96 L155.47,366.02 L158.54,370.16 L161.61,372.07 L164.67,343.4 L167.74,361.22 L170.81,375.09 L173.88,329.17 L176.95,316.52 L180.01,357.26 L183.08,365.24 L186.15,361.44 L189.22,374.09 L192.28,355.74 L195.35,367.61 L198.42,359.27 L201.49,355.82 L204.55,352.6 L207.62,350.78 L210.69,363.98 L213.76,365.65 L216.83,369.72 L219.89,316.94 L222.96,289.08 L226.03,323.42 L229.1,345.02 L232.16,374.33 L235.23,374.49 L238.3,370.21 L241.49,360.1 L244.68,374.61 L247.87,366.07 L251.06,368.21 L254.25,373.31 L257.44,286.38 L260.62,331.34 L263.81,366.9 L267,368.15 L270.19,371.6 L273.38,361.5 L276.57,356.9 L279.76,359.06 L282.95,361.97 L286.14,371.26 L289.33,374.7 L292.52,357.98 L295.71,366.85 L298.9,362.77 L302.09,372.28 L305.28,360.02 L308.46,356.9 L311.65,352.98 L314.84,359.75 L318.03,308.3 L321.22,277.09 L324.41,301.18 L327.6,343.64 L330.68,348.04 L333.75,372.52 L336.83,277.09 L339.91,292.06 L342.99,337.65 L346.06,353.38 L349.14,374.7 L352.22,363.77 L355.3,335.2 L358.37,349.61 L361.45,354.43 L364.53,287.46 L367.61,330.68 L370.68,349.39 L373.76,365.87 L376.84,367.72 L379.92,365.68 L382.99,362.15 L386.07,343.16 L389.15,365.92 L392.23,371.87 L395.3,373.71 L398.38,363.6 L401.46,361.9 L404.54,351.18 L407.61,337.14 L410.69,341.73 L413.77,359.96 L416.85,356.49 L419.92,334.42 L423,310.24 L426.1,340.27 L429.2,332.06 L432.3,356.9 L435.4,335.49 L438.5,333.44 L441.6,349.61 L444.7,361.89 L447.8,353.44 L450.9,299.88 L454,324.5 L457.1,327.74 L460.2,294.69 L463.3,329.9 L466.4,308.3" fill="none" stroke="#8b0000" stroke-width="0.85" stroke-linejoin="round" clip-path="url(#up2)"/>
<path d="M44.9,287.34 L48,344.37 L51.07,347.75 L54.14,294.69 L57.21,277.74 L60.28,336.56 L63.35,334.22 L66.43,368.24 L69.5,365.84 L72.57,365.89 L75.64,332.59 L78.71,363.58 L81.78,348.19 L84.85,371.8 L87.92,329.9 L90.99,313.38 L94.06,353.4 L97.14,370.53 L100.21,375.87 L103.28,372.71 L106.35,324.72 L109.42,365.62 L112.49,351.5 L115.56,329.9 L118.63,312.3 L121.7,369.1 L124.77,367.53 L127.85,354.77 L130.92,369.54 L133.99,365.58 L137.06,369.6 L140.13,347.05 L143.2,309.38 L146.27,309.38 L149.34,336.25 L152.4,338.96 L155.47,366.02 L158.54,370.16 L161.61,372.07 L164.67,343.4 L167.74,361.22 L170.81,375.09 L173.88,329.17 L176.95,316.52 L180.01,357.26 L183.08,365.24 L186.15,361.44 L189.22,374.09 L192.28,355.74 L195.35,367.61 L198.42,359.27 L201.49,355.82 L204.55,352.6 L207.62,350.78 L210.69,363.98 L213.76,365.65 L216.83,369.72 L219.89,316.94 L222.96,289.08 L226.03,323.42 L229.1,345.02 L232.16,374.33 L235.23,374.49 L238.3,370.21 L241.49,360.1 L244.68,374.61 L247.87,366.07 L251.06,368.21 L254.25,373.31 L257.44,286.38 L260.62,331.34 L263.81,366.9 L267,368.15 L270.19,371.6 L273.38,361.5 L276.57,356.9 L279.76,359.06 L282.95,361.97 L286.14,371.26 L289.33,374.7 L292.52,357.98 L295.71,366.85 L298.9,362.77 L302.09,372.28 L305.28,360.02 L308.46,356.9 L311.65,352.98 L314.84,359.75 L318.03,308.3 L321.22,277.09 L324.41,301.18 L327.6,343.64 L330.68,348.04 L333.75,372.52 L336.83,277.09 L339.91,292.06 L342.99,337.65 L346.06,353.38 L349.14,374.7 L352.22,363.77 L355.3,335.2 L358.37,349.61 L361.45,354.43 L364.53,287.46 L367.61,330.68 L370.68,349.39 L373.76,365.87 L376.84,367.72 L379.92,365.68 L382.99,362.15 L386.07,343.16 L389.15,365.92 L392.23,371.87 L395.3,373.71 L398.38,363.6 L401.46,361.9 L404.54,351.18 L407.61,337.14 L410.69,341.73 L413.77,359.96 L416.85,356.49 L419.92,334.42 L423,310.24 L426.1,340.27 L429.2,332.06 L432.3,356.9 L435.4,335.49 L438.5,333.44 L441.6,349.61 L444.7,361.89 L447.8,353.44 L450.9,299.88 L454,324.5 L457.1,327.74 L460.2,294.69 L463.3,329.9 L466.4,308.3" fill="none" stroke="#00008b" stroke-width="0.85" stroke-linejoin="round" clip-path="url(#dn2)"/>
<line x1="44.5" y1="330.43" x2="466.6" y2="330.43" stroke="#000" stroke-width="1.25" stroke-dasharray="4.2 1.89" opacity="0.72"/>
<rect x="44.5" y="275.9" width="422.1" height="108.0" fill="none" stroke="#000" stroke-width="0.68"/>
<line x1="42.0" y1="383.9" x2="44.5" y2="383.9" stroke="#000" stroke-width="0.7"/>
<text x="39.2" y="386.9" text-anchor="end" font-size="7.5" fill="#111" style="font-family:'Liberation Serif',serif">0.0</text>
<line x1="42.0" y1="330.43" x2="44.5" y2="330.43" stroke="#000" stroke-width="0.7"/>
<text x="39.2" y="333.43" text-anchor="end" font-size="7.5" fill="#111" style="font-family:'Liberation Serif',serif">0.5</text>
<line x1="42.0" y1="276.97" x2="44.5" y2="276.97" stroke="#000" stroke-width="0.7"/>
<text x="39.2" y="279.97" text-anchor="end" font-size="7.5" fill="#111" style="font-family:'Liberation Serif',serif">1.0</text>
<path d="M44.9 383.9v2 M47.92 383.9v2 M50.94 383.9v2 M53.96 383.9v2 M56.98 383.9v2 M60 383.9v2 M63.02 383.9v2 M66.04 383.9v2 M69.06 383.9v2 M72.08 383.9v2 M75.1 383.9v2 M78.12 383.9v2 M81.14 383.9v2 M84.16 383.9v2 M87.18 383.9v2 M90.2 383.9v2 M93.22 383.9v2 M96.24 383.9v2 M99.26 383.9v2 M102.28 383.9v2 M105.3 383.9v2 M108.32 383.9v2 M111.34 383.9v2 M114.36 383.9v2 M117.38 383.9v2 M120.4 383.9v2 M123.42 383.9v2 M126.44 383.9v2 M129.46 383.9v2 M132.48 383.9v2 M135.5 383.9v2 M138.52 383.9v2 M141.54 383.9v2 M144.56 383.9v2 M147.58 383.9v2 M150.6 383.9v2 M153.62 383.9v2 M156.64 383.9v2 M159.66 383.9v2 M162.68 383.9v2 M165.7 383.9v2 M168.72 383.9v2 M171.74 383.9v2 M174.76 383.9v2 M177.78 383.9v2 M180.8 383.9v2 M183.82 383.9v2 M186.84 383.9v2 M189.86 383.9v2 M192.88 383.9v2 M195.9 383.9v2 M198.92 383.9v2 M201.94 383.9v2 M204.96 383.9v2 M207.98 383.9v2 M211 383.9v2 M214.02 383.9v2 M217.04 383.9v2 M220.06 383.9v2 M223.08 383.9v2 M226.1 383.9v2 M229.12 383.9v2 M232.14 383.9v2 M235.16 383.9v2 M238.18 383.9v2 M241.2 383.9v2 M244.22 383.9v2 M247.24 383.9v2 M250.26 383.9v2 M253.28 383.9v2 M256.3 383.9v2 M259.32 383.9v2 M262.34 383.9v2 M265.36 383.9v2 M268.38 383.9v2 M271.4 383.9v2 M274.42 383.9v2 M277.44 383.9v2 M280.46 383.9v2 M283.48 383.9v2 M286.5 383.9v2 M289.52 383.9v2 M292.54 383.9v2 M295.56 383.9v2 M298.58 383.9v2 M301.6 383.9v2 M304.62 383.9v2 M307.64 383.9v2 M310.66 383.9v2 M313.68 383.9v2 M316.7 383.9v2 M319.72 383.9v2 M322.74 383.9v2 M325.76 383.9v2 M328.78 383.9v2 M331.8 383.9v2 M334.82 383.9v2 M337.84 383.9v2 M340.86 383.9v2 M343.88 383.9v2 M346.9 383.9v2 M349.92 383.9v2 M352.94 383.9v2 M355.96 383.9v2 M358.98 383.9v2 M362 383.9v2 M365.02 383.9v2 M368.04 383.9v2 M371.06 383.9v2 M374.08 383.9v2 M377.1 383.9v2 M380.12 383.9v2 M383.14 383.9v2 M386.16 383.9v2 M389.18 383.9v2 M392.2 383.9v2 M395.22 383.9v2 M398.24 383.9v2 M401.26 383.9v2 M404.28 383.9v2 M407.3 383.9v2 M410.32 383.9v2 M413.34 383.9v2 M416.36 383.9v2 M419.38 383.9v2 M422.4 383.9v2 M425.42 383.9v2 M428.44 383.9v2 M431.46 383.9v2 M434.48 383.9v2 M437.5 383.9v2 M440.52 383.9v2 M443.54 383.9v2 M446.56 383.9v2 M449.58 383.9v2 M452.6 383.9v2 M455.62 383.9v2 M458.64 383.9v2 M461.66 383.9v2 M464.68 383.9v2" stroke="#000" stroke-width="0.6" opacity="0.7"/>
<line x1="48.0" y1="383.9" x2="48.0" y2="388.8" stroke="#000" stroke-width="1.3"/>
<line x1="143.2" y1="383.9" x2="143.2" y2="388.8" stroke="#000" stroke-width="1.3"/>
<line x1="238.3" y1="383.9" x2="238.3" y2="388.8" stroke="#000" stroke-width="1.3"/>
<line x1="327.6" y1="383.9" x2="327.6" y2="388.8" stroke="#000" stroke-width="1.3"/>
<line x1="423.0" y1="383.9" x2="423.0" y2="388.8" stroke="#000" stroke-width="1.3"/>
<text x="5.0" y="280.1" font-size="9.2" font-weight="bold" fill="#111" style="font-family:'Liberation Serif',serif">RF</text>
<text transform="translate(24.8 330.3) rotate(-90)" text-anchor="middle" font-size="9.2" fill="#111" style="font-family:'Liberation Serif',serif">Probability</text>
<text x="358.9" y="371.4" font-size="7.6" fill="#111" style="font-family:'Liberation Serif',serif">R<tspan dy="-2.9" font-size="5.6" font-family="Liberation Sans">2</tspan><tspan dy="2.9" dx="0.3"> (GEMLAM 24h) = 0.714</tspan></text>
<text x="358.9" y="380.6" font-size="7.6" fill="#111" style="font-family:'Liberation Serif',serif">R<tspan dy="-2.9" font-size="5.6" font-family="Liberation Sans">2</tspan><tspan dy="2.9" dx="0.3"> (GEMLAM 48h) = 0.648</tspan></text>
<rect x="474.5" y="275.9" width="6" height="54.0" fill="#ff0000"/>
<rect x="474.5" y="329.9" width="6" height="54.0" fill="#0000ff"/>
<rect x="474.5" y="275.9" width="6" height="108.0" fill="none" stroke="#000" stroke-width="0.6"/>
<line x1="480.5" y1="383.9" x2="483.1" y2="383.9" stroke="#000" stroke-width="0.7"/>
<text x="485.6" y="387.2" font-size="7.5" fill="#111" style="font-family:'Liberation Serif',serif">0.0</text>
<line x1="480.5" y1="329.9" x2="483.1" y2="329.9" stroke="#000" stroke-width="0.7"/>
<text x="485.6" y="333.2" font-size="7.5" fill="#111" style="font-family:'Liberation Serif',serif">0.5</text>
<line x1="480.5" y1="275.9" x2="483.1" y2="275.9" stroke="#000" stroke-width="0.7"/>
<text x="485.6" y="279.2" font-size="7.5" fill="#111" style="font-family:'Liberation Serif',serif">1.0</text>
<path d="M44.9,432.92 L48,456.4 M51.07,461.46 L54.14,444.86 L57.21,450.8 L60.28,450.84 L63.35,456.89 L66.43,462.5 L69.5,466.83 L72.57,462.64 L75.64,448.64 L78.71,460.02 L81.78,465.19 L84.85,472.12 M87.92,450.8 L90.99,457.28 L94.06,464.33 L97.14,471.17 L100.21,470.36 M103.28,463.32 L106.35,460.42 L109.42,465.88 L112.49,466.46 L115.56,455.72 L118.63,459.94 L121.7,466.1 L124.77,468.47 L127.85,464.17 L130.92,465.08 L133.99,462.77 L137.06,466.85 L140.13,461.85 L143.2,456.2 L146.27,459.44 L149.34,460.98 L152.4,456.51 L155.47,465.08 L158.54,470.21 L161.61,472.67 L164.67,465.9 L167.74,469.32 L170.81,471.45 L173.88,445.94 L176.95,456.37 L180.01,466.76 L183.08,473.07 L186.15,468.83 L189.22,472.76 L192.28,476.51 L195.35,481.42 L198.42,472.06 L201.49,473.01 L204.55,475.1 L207.62,473.91 L210.69,468.3 L213.76,468.71 L216.83,473.36 L219.89,461.37 L222.96,445.4 L226.03,453.77 L229.1,464.38 L232.16,473.93 L235.23,473.62 L238.3,470.61 L241.49,468.16 M244.68,468.12 L247.87,465.1 L251.06,468.02 L254.25,472.42 L257.44,408.68 L260.62,450.19 L263.81,471.42 L267,471.1 L270.19,467.19 L273.38,464.15 L276.57,473.11 L279.76,479.43 L282.95,474.29 L286.14,470.9 L289.33,473.74 L292.52,471.06 L295.71,473.04 L298.9,477.37 L302.09,470.25 L305.28,464.71 L308.46,461.45 L311.65,461.83 M314.84,466.33 L318.03,450.8 L321.22,440 L324.41,442.81 L327.6,461.19 M333.75,466.51 L336.83,420.02 L339.91,426.53 L342.99,449.31 L346.06,466.5 L349.14,472.95 L352.22,470.69 L355.3,452.91 L358.37,463.29 L361.45,465.38 L364.53,445.4 L367.61,447.99 L370.68,454.01 L373.76,469.64 L376.84,467.58 L379.92,466.89 L382.99,466.69 L386.07,436.04 L389.15,460.15 L392.23,469.94 L395.3,473.06 L398.38,468.02 L401.46,463.81 L404.54,459.83 L407.61,456.28 L410.69,461.42 L413.77,463.41 L416.85,462.61 L419.92,444.32 L423,407.6 L426.1,455.12 L429.2,454.04 L432.3,461.25 L435.4,455.01 L438.5,459.13 L441.6,462.22 L444.7,463.96 L447.8,456.2 L450.9,437.84 L454,430.28 L457.1,443.24 L460.2,435.68 L463.3,454.04 L466.4,430.28" fill="none" stroke="#ff0000" stroke-width="0.85" stroke-linejoin="round" clip-path="url(#up3)"/>
<path d="M44.9,432.92 L48,456.4 M51.07,461.46 L54.14,444.86 L57.21,450.8 L60.28,450.84 L63.35,456.89 L66.43,462.5 L69.5,466.83 L72.57,462.64 L75.64,448.64 L78.71,460.02 L81.78,465.19 L84.85,472.12 M87.92,450.8 L90.99,457.28 L94.06,464.33 L97.14,471.17 L100.21,470.36 M103.28,463.32 L106.35,460.42 L109.42,465.88 L112.49,466.46 L115.56,455.72 L118.63,459.94 L121.7,466.1 L124.77,468.47 L127.85,464.17 L130.92,465.08 L133.99,462.77 L137.06,466.85 L140.13,461.85 L143.2,456.2 L146.27,459.44 L149.34,460.98 L152.4,456.51 L155.47,465.08 L158.54,470.21 L161.61,472.67 L164.67,465.9 L167.74,469.32 L170.81,471.45 L173.88,445.94 L176.95,456.37 L180.01,466.76 L183.08,473.07 L186.15,468.83 L189.22,472.76 L192.28,476.51 L195.35,481.42 L198.42,472.06 L201.49,473.01 L204.55,475.1 L207.62,473.91 L210.69,468.3 L213.76,468.71 L216.83,473.36 L219.89,461.37 L222.96,445.4 L226.03,453.77 L229.1,464.38 L232.16,473.93 L235.23,473.62 L238.3,470.61 L241.49,468.16 M244.68,468.12 L247.87,465.1 L251.06,468.02 L254.25,472.42 L257.44,408.68 L260.62,450.19 L263.81,471.42 L267,471.1 L270.19,467.19 L273.38,464.15 L276.57,473.11 L279.76,479.43 L282.95,474.29 L286.14,470.9 L289.33,473.74 L292.52,471.06 L295.71,473.04 L298.9,477.37 L302.09,470.25 L305.28,464.71 L308.46,461.45 L311.65,461.83 M314.84,466.33 L318.03,450.8 L321.22,440 L324.41,442.81 L327.6,461.19 M333.75,466.51 L336.83,420.02 L339.91,426.53 L342.99,449.31 L346.06,466.5 L349.14,472.95 L352.22,470.69 L355.3,452.91 L358.37,463.29 L361.45,465.38 L364.53,445.4 L367.61,447.99 L370.68,454.01 L373.76,469.64 L376.84,467.58 L379.92,466.89 L382.99,466.69 L386.07,436.04 L389.15,460.15 L392.23,469.94 L395.3,473.06 L398.38,468.02 L401.46,463.81 L404.54,459.83 L407.61,456.28 L410.69,461.42 L413.77,463.41 L416.85,462.61 L419.92,444.32 L423,407.6 L426.1,455.12 L429.2,454.04 L432.3,461.25 L435.4,455.01 L438.5,459.13 L441.6,462.22 L444.7,463.96 L447.8,456.2 L450.9,437.84 L454,430.28 L457.1,443.24 L460.2,435.68 L463.3,454.04 L466.4,430.28" fill="none" stroke="#0000ff" stroke-width="0.85" stroke-linejoin="round" clip-path="url(#dn3)"/>
<path d="M44.9,435.68 L48,456.31 L51.07,461.51 L54.14,431.36 L57.21,445.4 L60.28,452.82 L63.35,456.8 L66.43,465.92 L69.5,467.12 L72.57,463.49 L75.64,457.28 L78.71,462.1 M81.78,466.64 L84.85,472.23 L87.92,451.17 L90.99,457.76 L94.06,465.84 L97.14,471.85 L100.21,470.68 L103.28,463.09 L106.35,465.6 L109.42,464.79 L112.49,467.04 L115.56,459.44 L118.63,460.29 L121.7,467.2 L124.77,469.7 L127.85,464.88 L130.92,466.68 L133.99,464.62 L137.06,468.01 L140.13,463.54 L143.2,420.02 L146.27,456.2 L149.34,460.71 L152.4,465.6 L155.47,466.68 L158.54,471.4 L161.61,472.99 L164.67,470.78 L167.74,470.8 M170.81,473.08 L173.88,450.8 L176.95,457.32 L180.01,467.31 L183.08,473.39 L186.15,470.06 L189.22,474.37 L192.28,477.22 L195.35,481.71 L198.42,475.96 L201.49,474.17 L204.55,474.79 L207.62,475.96 L210.69,469.4 L213.76,469.07 L216.83,473.96 L219.89,463.54 L222.96,450.8 L226.03,463.54 L229.1,465.99 M232.16,475.63 L235.23,473.41 L238.3,472 L241.49,468.53 L244.68,468.55 L247.87,466.68 L251.06,469.07 L254.25,472.35 L257.44,418.4 L260.62,449.69 L263.81,470.68 L267,471.59 L270.19,469 L273.38,465.63 L276.57,474.16 L279.76,480.28 L282.95,474.66 L286.14,471.55 L289.33,474.56 L292.52,472.83 L295.71,474.39 L298.9,479.22 L302.09,471.86 L305.28,465.04 L308.46,462.88 L311.65,461.95 L314.84,466.7 L318.03,438.7 L321.22,450.8 L324.41,459.44 L327.6,461.42 L330.68,464.87 L333.75,466.34 L336.83,423.8 L339.91,415.92 L342.99,451.31 L346.06,467.34 L349.14,473.39 L352.22,472.22 L355.3,454.26 L358.37,464.62 L361.45,466.65 L364.53,445.3 L367.61,452.96 L370.68,455.34 L373.76,471.44 L376.84,468.76 L379.92,468.62 L382.99,468.61 L386.07,403.5 L389.15,460.72 L392.23,469.98 L395.3,473.62 M404.54,460.73 L407.61,443.89 L410.69,462.07 L413.77,463.73 L416.85,457.28 L419.92,438.33 L423,404.36 L426.1,433.52 L429.2,452.78 L432.3,459.44 L435.4,455.24 L438.5,460.19 L441.6,464.23 L444.7,465.74 L447.8,456.79 L450.9,440 L454,433.52 L457.1,444.73 L460.2,436.18 L463.3,450.8 L466.4,433.52" fill="none" stroke="#f08080" stroke-width="0.85" stroke-linejoin="round" clip-path="url(#up3)"/>
<path d="M44.9,435.68 L48,456.31 L51.07,461.51 L54.14,431.36 L57.21,445.4 L60.28,452.82 L63.35,456.8 L66.43,465.92 L69.5,467.12 L72.57,463.49 L75.64,457.28 L78.71,462.1 M81.78,466.64 L84.85,472.23 L87.92,451.17 L90.99,457.76 L94.06,465.84 L97.14,471.85 L100.21,470.68 L103.28,463.09 L106.35,465.6 L109.42,464.79 L112.49,467.04 L115.56,459.44 L118.63,460.29 L121.7,467.2 L124.77,469.7 L127.85,464.88 L130.92,466.68 L133.99,464.62 L137.06,468.01 L140.13,463.54 L143.2,420.02 L146.27,456.2 L149.34,460.71 L152.4,465.6 L155.47,466.68 L158.54,471.4 L161.61,472.99 L164.67,470.78 L167.74,470.8 M170.81,473.08 L173.88,450.8 L176.95,457.32 L180.01,467.31 L183.08,473.39 L186.15,470.06 L189.22,474.37 L192.28,477.22 L195.35,481.71 L198.42,475.96 L201.49,474.17 L204.55,474.79 L207.62,475.96 L210.69,469.4 L213.76,469.07 L216.83,473.96 L219.89,463.54 L222.96,450.8 L226.03,463.54 L229.1,465.99 M232.16,475.63 L235.23,473.41 L238.3,472 L241.49,468.53 L244.68,468.55 L247.87,466.68 L251.06,469.07 L254.25,472.35 L257.44,418.4 L260.62,449.69 L263.81,470.68 L267,471.59 L270.19,469 L273.38,465.63 L276.57,474.16 L279.76,480.28 L282.95,474.66 L286.14,471.55 L289.33,474.56 L292.52,472.83 L295.71,474.39 L298.9,479.22 L302.09,471.86 L305.28,465.04 L308.46,462.88 L311.65,461.95 L314.84,466.7 L318.03,438.7 L321.22,450.8 L324.41,459.44 L327.6,461.42 L330.68,464.87 L333.75,466.34 L336.83,423.8 L339.91,415.92 L342.99,451.31 L346.06,467.34 L349.14,473.39 L352.22,472.22 L355.3,454.26 L358.37,464.62 L361.45,466.65 L364.53,445.3 L367.61,452.96 L370.68,455.34 L373.76,471.44 L376.84,468.76 L379.92,468.62 L382.99,468.61 L386.07,403.5 L389.15,460.72 L392.23,469.98 L395.3,473.62 M404.54,460.73 L407.61,443.89 L410.69,462.07 L413.77,463.73 L416.85,457.28 L419.92,438.33 L423,404.36 L426.1,433.52 L429.2,452.78 L432.3,459.44 L435.4,455.24 L438.5,460.19 L441.6,464.23 L444.7,465.74 L447.8,456.79 L450.9,440 L454,433.52 L457.1,444.73 L460.2,436.18 L463.3,450.8 L466.4,433.52" fill="none" stroke="#6495ed" stroke-width="0.85" stroke-linejoin="round" clip-path="url(#dn3)"/>
<path d="M44.9,434.26 L48,457.94 L51.07,463.17 L54.14,452.96 L57.21,427.26 L60.28,452.32 L63.35,458.14 L66.43,464.41 L69.5,468.99 L72.57,464.83 L75.64,450.8 L78.71,461.74 L81.78,466.81 L84.85,473.97 L87.92,414.84 L90.99,449.07 L94.06,466.6 L97.14,474.14 L100.21,473.03 L103.28,465.44 L106.35,461.8 L109.42,466.74 L112.49,467.77 L115.56,457.26 L118.63,460.93 L121.7,467.56 L124.77,470.98 L127.85,466.92 L130.92,468.36 L133.99,466.09 L137.06,469.76 L140.13,465.09 L143.2,430.39 L146.27,447.02 L149.34,463.3 L152.4,459.7 L155.47,468.14 L158.54,471.76 L161.61,473.74 L164.67,467.23 L167.74,470.98 L170.81,472.85 L173.88,426.28 L176.95,457.55 L180.01,468.37 L183.08,475.01 L186.15,470.51 L189.22,474.45 L192.28,478.85 L195.35,484.27 L198.42,474.43 L201.49,475.42 L204.55,475.96 L207.62,477.3 L210.69,470.38 L213.76,470.26 L216.83,476.19 L219.89,465.15 L222.96,426.28 L226.03,456.05 L229.1,466.13 L232.16,475.92 L235.23,476.16 L238.3,473.04 L241.49,469.91 L244.68,470.07 L247.87,468.13 L251.06,470.53 L254.25,473.79 L257.44,424.23 L260.62,451.94 L263.81,472.88 L267,472.53 L270.19,469.02 L273.38,466.06 L276.57,474.65 L279.76,480.85 L282.95,475.42 L286.14,472.34 L289.33,476.31 L292.52,474.29 L295.71,475.53 L298.9,479.25 L302.09,472.47 L305.28,466.38 L308.46,462.74 L311.65,463.74 L314.84,468.24 L318.03,452.96 L321.22,420.02 L324.41,447.02 L327.6,462.81 L330.68,466.09 L333.75,467.93 L336.83,401.44 L339.91,429.12 L342.99,451.74 L346.06,468.06 L349.14,474.59 L352.22,473.15 L355.3,455.95 L358.37,466.3 L361.45,467.95 L364.53,429.42 L367.61,451.18 L370.68,456.71 L373.76,471.79 L376.84,469.58 L379.92,468.48 L382.99,468.12 L386.07,438.13 L389.15,462.37 L392.23,471.4 L395.3,473.72 L398.38,468.92 L401.46,465.22 L404.54,461.12 L407.61,457.64 L410.69,462.79 L413.77,464.69 L416.85,463.87 L419.92,437.84 L423,398.2 L426.1,417.32 L429.2,451.88 L432.3,463.1 L435.4,455.53 L438.5,459.37 L441.6,463.82 L444.7,466.77 L447.8,455.12 L450.9,412.24 L454,444.32 L457.1,444.86 L460.2,444.86 L463.3,452.96 L466.4,445.4" fill="none" stroke="#8b0000" stroke-width="0.85" stroke-linejoin="round" clip-path="url(#up3)"/>
<path d="M44.9,434.26 L48,457.94 L51.07,463.17 L54.14,452.96 L57.21,427.26 L60.28,452.32 L63.35,458.14 L66.43,464.41 L69.5,468.99 L72.57,464.83 L75.64,450.8 L78.71,461.74 L81.78,466.81 L84.85,473.97 L87.92,414.84 L90.99,449.07 L94.06,466.6 L97.14,474.14 L100.21,473.03 L103.28,465.44 L106.35,461.8 L109.42,466.74 L112.49,467.77 L115.56,457.26 L118.63,460.93 L121.7,467.56 L124.77,470.98 L127.85,466.92 L130.92,468.36 L133.99,466.09 L137.06,469.76 L140.13,465.09 L143.2,430.39 L146.27,447.02 L149.34,463.3 L152.4,459.7 L155.47,468.14 L158.54,471.76 L161.61,473.74 L164.67,467.23 L167.74,470.98 L170.81,472.85 L173.88,426.28 L176.95,457.55 L180.01,468.37 L183.08,475.01 L186.15,470.51 L189.22,474.45 L192.28,478.85 L195.35,484.27 L198.42,474.43 L201.49,475.42 L204.55,475.96 L207.62,477.3 L210.69,470.38 L213.76,470.26 L216.83,476.19 L219.89,465.15 L222.96,426.28 L226.03,456.05 L229.1,466.13 L232.16,475.92 L235.23,476.16 L238.3,473.04 L241.49,469.91 L244.68,470.07 L247.87,468.13 L251.06,470.53 L254.25,473.79 L257.44,424.23 L260.62,451.94 L263.81,472.88 L267,472.53 L270.19,469.02 L273.38,466.06 L276.57,474.65 L279.76,480.85 L282.95,475.42 L286.14,472.34 L289.33,476.31 L292.52,474.29 L295.71,475.53 L298.9,479.25 L302.09,472.47 L305.28,466.38 L308.46,462.74 L311.65,463.74 L314.84,468.24 L318.03,452.96 L321.22,420.02 L324.41,447.02 L327.6,462.81 L330.68,466.09 L333.75,467.93 L336.83,401.44 L339.91,429.12 L342.99,451.74 L346.06,468.06 L349.14,474.59 L352.22,473.15 L355.3,455.95 L358.37,466.3 L361.45,467.95 L364.53,429.42 L367.61,451.18 L370.68,456.71 L373.76,471.79 L376.84,469.58 L379.92,468.48 L382.99,468.12 L386.07,438.13 L389.15,462.37 L392.23,471.4 L395.3,473.72 L398.38,468.92 L401.46,465.22 L404.54,461.12 L407.61,457.64 L410.69,462.79 L413.77,464.69 L416.85,463.87 L419.92,437.84 L423,398.2 L426.1,417.32 L429.2,451.88 L432.3,463.1 L435.4,455.53 L438.5,459.37 L441.6,463.82 L444.7,466.77 L447.8,455.12 L450.9,412.24 L454,444.32 L457.1,444.86 L460.2,444.86 L463.3,452.96 L466.4,445.4" fill="none" stroke="#00008b" stroke-width="0.85" stroke-linejoin="round" clip-path="url(#dn3)"/>
<line x1="44.5" y1="451.33" x2="466.6" y2="451.33" stroke="#000" stroke-width="1.25" stroke-dasharray="4.2 1.89" opacity="0.72"/>
<rect x="44.5" y="396.8" width="422.1" height="108.0" fill="none" stroke="#000" stroke-width="0.68"/>
<line x1="42.0" y1="504.8" x2="44.5" y2="504.8" stroke="#000" stroke-width="0.7"/>
<text x="39.2" y="507.8" text-anchor="end" font-size="7.5" fill="#111" style="font-family:'Liberation Serif',serif">0.0</text>
<line x1="42.0" y1="451.33" x2="44.5" y2="451.33" stroke="#000" stroke-width="0.7"/>
<text x="39.2" y="454.33" text-anchor="end" font-size="7.5" fill="#111" style="font-family:'Liberation Serif',serif">0.5</text>
<line x1="42.0" y1="397.87" x2="44.5" y2="397.87" stroke="#000" stroke-width="0.7"/>
<text x="39.2" y="400.87" text-anchor="end" font-size="7.5" fill="#111" style="font-family:'Liberation Serif',serif">1.0</text>
<path d="M44.9 504.8v2 M47.92 504.8v2 M50.94 504.8v2 M53.96 504.8v2 M56.98 504.8v2 M60 504.8v2 M63.02 504.8v2 M66.04 504.8v2 M69.06 504.8v2 M72.08 504.8v2 M75.1 504.8v2 M78.12 504.8v2 M81.14 504.8v2 M84.16 504.8v2 M87.18 504.8v2 M90.2 504.8v2 M93.22 504.8v2 M96.24 504.8v2 M99.26 504.8v2 M102.28 504.8v2 M105.3 504.8v2 M108.32 504.8v2 M111.34 504.8v2 M114.36 504.8v2 M117.38 504.8v2 M120.4 504.8v2 M123.42 504.8v2 M126.44 504.8v2 M129.46 504.8v2 M132.48 504.8v2 M135.5 504.8v2 M138.52 504.8v2 M141.54 504.8v2 M144.56 504.8v2 M147.58 504.8v2 M150.6 504.8v2 M153.62 504.8v2 M156.64 504.8v2 M159.66 504.8v2 M162.68 504.8v2 M165.7 504.8v2 M168.72 504.8v2 M171.74 504.8v2 M174.76 504.8v2 M177.78 504.8v2 M180.8 504.8v2 M183.82 504.8v2 M186.84 504.8v2 M189.86 504.8v2 M192.88 504.8v2 M195.9 504.8v2 M198.92 504.8v2 M201.94 504.8v2 M204.96 504.8v2 M207.98 504.8v2 M211 504.8v2 M214.02 504.8v2 M217.04 504.8v2 M220.06 504.8v2 M223.08 504.8v2 M226.1 504.8v2 M229.12 504.8v2 M232.14 504.8v2 M235.16 504.8v2 M238.18 504.8v2 M241.2 504.8v2 M244.22 504.8v2 M247.24 504.8v2 M250.26 504.8v2 M253.28 504.8v2 M256.3 504.8v2 M259.32 504.8v2 M262.34 504.8v2 M265.36 504.8v2 M268.38 504.8v2 M271.4 504.8v2 M274.42 504.8v2 M277.44 504.8v2 M280.46 504.8v2 M283.48 504.8v2 M286.5 504.8v2 M289.52 504.8v2 M292.54 504.8v2 M295.56 504.8v2 M298.58 504.8v2 M301.6 504.8v2 M304.62 504.8v2 M307.64 504.8v2 M310.66 504.8v2 M313.68 504.8v2 M316.7 504.8v2 M319.72 504.8v2 M322.74 504.8v2 M325.76 504.8v2 M328.78 504.8v2 M331.8 504.8v2 M334.82 504.8v2 M337.84 504.8v2 M340.86 504.8v2 M343.88 504.8v2 M346.9 504.8v2 M349.92 504.8v2 M352.94 504.8v2 M355.96 504.8v2 M358.98 504.8v2 M362 504.8v2 M365.02 504.8v2 M368.04 504.8v2 M371.06 504.8v2 M374.08 504.8v2 M377.1 504.8v2 M380.12 504.8v2 M383.14 504.8v2 M386.16 504.8v2 M389.18 504.8v2 M392.2 504.8v2 M395.22 504.8v2 M398.24 504.8v2 M401.26 504.8v2 M404.28 504.8v2 M407.3 504.8v2 M410.32 504.8v2 M413.34 504.8v2 M416.36 504.8v2 M419.38 504.8v2 M422.4 504.8v2 M425.42 504.8v2 M428.44 504.8v2 M431.46 504.8v2 M434.48 504.8v2 M437.5 504.8v2 M440.52 504.8v2 M443.54 504.8v2 M446.56 504.8v2 M449.58 504.8v2 M452.6 504.8v2 M455.62 504.8v2 M458.64 504.8v2 M461.66 504.8v2 M464.68 504.8v2" stroke="#000" stroke-width="0.6" opacity="0.7"/>
<line x1="48.0" y1="504.8" x2="48.0" y2="509.7" stroke="#000" stroke-width="1.3"/>
<text x="48.0" y="518.1" text-anchor="middle" font-size="7.5" fill="#111" style="font-family:'Liberation Serif',serif">Dec-01</text>
<line x1="143.2" y1="504.8" x2="143.2" y2="509.7" stroke="#000" stroke-width="1.3"/>
<text x="143.2" y="518.1" text-anchor="middle" font-size="7.5" fill="#111" style="font-family:'Liberation Serif',serif">Jan-01</text>
<line x1="238.3" y1="504.8" x2="238.3" y2="509.7" stroke="#000" stroke-width="1.3"/>
<text x="238.3" y="518.1" text-anchor="middle" font-size="7.5" fill="#111" style="font-family:'Liberation Serif',serif">Feb-01</text>
<line x1="327.6" y1="504.8" x2="327.6" y2="509.7" stroke="#000" stroke-width="1.3"/>
<text x="327.6" y="518.1" text-anchor="middle" font-size="7.5" fill="#111" style="font-family:'Liberation Serif',serif">Mar-01</text>
<line x1="423.0" y1="504.8" x2="423.0" y2="509.7" stroke="#000" stroke-width="1.3"/>
<text x="423.0" y="518.1" text-anchor="middle" font-size="7.5" fill="#111" style="font-family:'Liberation Serif',serif">Apr-01</text>
<text x="5.0" y="401" font-size="9.2" font-weight="bold" fill="#111" style="font-family:'Liberation Serif',serif">NN</text>
<text transform="translate(24.8 451.2) rotate(-90)" text-anchor="middle" font-size="9.2" fill="#111" style="font-family:'Liberation Serif',serif">Probability</text>
<text x="358.9" y="492.3" font-size="7.6" fill="#111" style="font-family:'Liberation Serif',serif">R<tspan dy="-2.9" font-size="5.6" font-family="Liberation Sans">2</tspan><tspan dy="2.9" dx="0.3"> (GEMLAM 24h) = 0.803</tspan></text>
<text x="358.9" y="501.5" font-size="7.6" fill="#111" style="font-family:'Liberation Serif',serif">R<tspan dy="-2.9" font-size="5.6" font-family="Liberation Sans">2</tspan><tspan dy="2.9" dx="0.3"> (GEMLAM 48h) = 0.745</tspan></text>
<rect x="474.5" y="396.8" width="6" height="54.0" fill="#ff0000"/>
<rect x="474.5" y="450.8" width="6" height="54.0" fill="#0000ff"/>
<rect x="474.5" y="396.8" width="6" height="108.0" fill="none" stroke="#000" stroke-width="0.6"/>
<line x1="480.5" y1="504.8" x2="483.1" y2="504.8" stroke="#000" stroke-width="0.7"/>
<text x="485.6" y="508.1" font-size="7.5" fill="#111" style="font-family:'Liberation Serif',serif">0.0</text>
<line x1="480.5" y1="450.8" x2="483.1" y2="450.8" stroke="#000" stroke-width="0.7"/>
<text x="485.6" y="454.1" font-size="7.5" fill="#111" style="font-family:'Liberation Serif',serif">0.5</text>
<line x1="480.5" y1="396.8" x2="483.1" y2="396.8" stroke="#000" stroke-width="0.7"/>
<text x="485.6" y="400.1" font-size="7.5" fill="#111" style="font-family:'Liberation Serif',serif">1.0</text>
<rect x="163.9" y="5.6" width="171.0" height="24.6" rx="2" fill="#fff" stroke="#d0d0d0" stroke-width="0.8"/>
<rect x="166.8" y="9.3" width="7.7" height="4.8" fill="#0000ff"/>
<rect x="166.8" y="20.1" width="7.7" height="4.8" fill="#ff0000"/>
<text x="176.6" y="15.0" font-size="7.55" fill="#111" style="font-family:'Liberation Serif',serif">Hindcast</text>
<text x="176.6" y="25.9" font-size="7.55" fill="#111" style="font-family:'Liberation Serif',serif">Hindcast</text>
<rect x="210.9" y="9.3" width="7.7" height="4.8" fill="#6495ed"/>
<rect x="210.9" y="20.1" width="7.7" height="4.8" fill="#f08080"/>
<text x="220.1" y="15.0" font-size="7.55" fill="#111" style="font-family:'Liberation Serif',serif">GEMLAM 24h</text>
<text x="220.1" y="25.9" font-size="7.55" fill="#111" style="font-family:'Liberation Serif',serif">GEMLAM 24h</text>
<rect x="275.4" y="9.3" width="7.7" height="4.8" fill="#00008b"/>
<rect x="275.4" y="20.1" width="7.7" height="4.8" fill="#8b0000"/>
<text x="284.5" y="15.0" font-size="7.55" fill="#111" style="font-family:'Liberation Serif',serif">GEMLAM 48h</text>
<text x="284.5" y="25.9" font-size="7.55" fill="#111" style="font-family:'Liberation Serif',serif">GEMLAM 48h</text>
<text x="249.7" y="530.8" text-anchor="middle" font-size="9.15" fill="#111" style="font-family:'Liberation Serif',serif">Winter 2018-2019</text>
</svg></body></html>
